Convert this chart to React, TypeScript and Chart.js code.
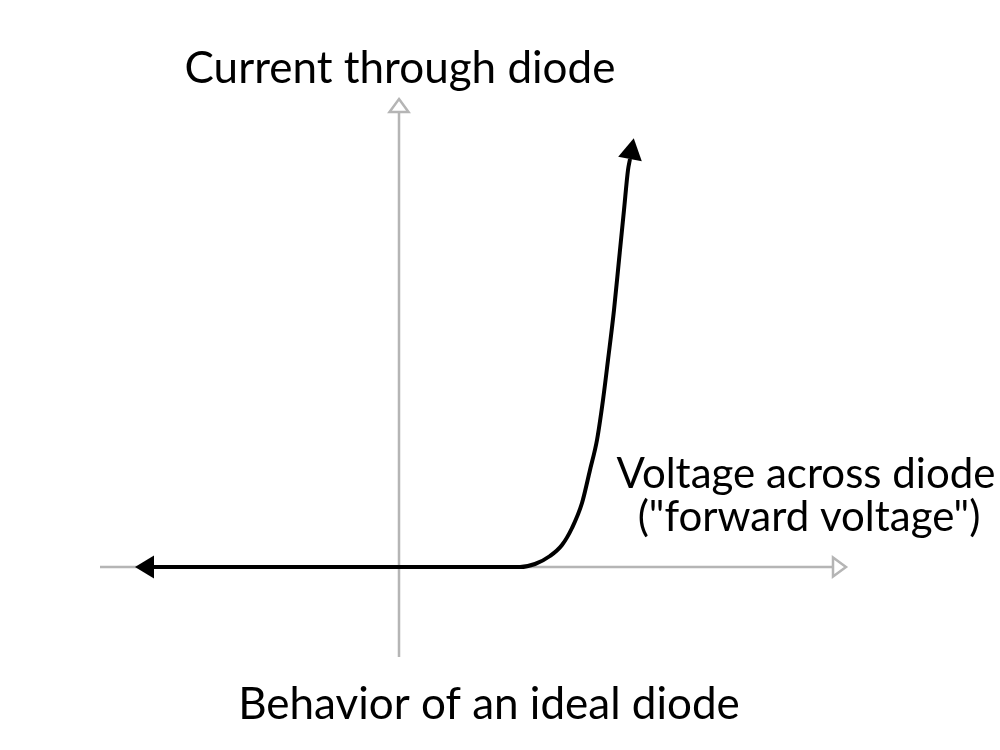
import React, { useEffect, useRef } from "react";
import { Chart, registerables } from "chart.js";

Chart.register(...registerables);

// ---- Data (arbitrary units: 1 unit of voltage / current) ----
const horizontalAxisVoltage = [-2.99, 4.34];
const horizontalAxisCurrent = [0, 0];
const verticalAxisVoltage = [0, 0];
const verticalAxisCurrent = [-0.9, 4.55];

const diodeVoltage = [-2.45, 1.21, 1.36, 1.51, 1.63, 1.73, 1.83, 1.91, 1.98, 2.04, 2.09, 2.15, 2.2, 2.25, 2.29, 2.31];
const diodeCurrent = [0, 0, 0.03, 0.11, 0.22, 0.39, 0.64, 0.97, 1.27, 1.67, 2.07, 2.57, 3.07, 3.57, 3.97, 4.08];

const titleText = "Current through diode";
const xAxisLabelLines = ["Voltage across diode", "(\"forward voltage\")"];
const captionText = "Behavior of an ideal diode";

const toPoints = (xs: number[], ys: number[]) => xs.map((x, i) => ({ x, y: ys[i] }));

const AXIS_GRAY = "#b5b5b5";
const FONT = "Lato, 'Open Sans', sans-serif";

const arrowPlugin = {
  id: "arrowHeads",
  afterDatasetsDraw(chart: any) {
    const ctx = chart.ctx;
    // draw axes arrows first, curve arrows last
    const order = chart.data.datasets
      .map((ds: any, i: number) => ({ ds, i }))
      .sort((a: any, b: any) => (b.ds.order ?? 0) - (a.ds.order ?? 0));
    order.forEach(({ ds, i }: any) => {
      const meta = chart.getDatasetMeta(i);
      const pts = meta.data;
      const arrows = ds.arrows || [];
      arrows.forEach((a: any) => {
        const n = pts.length;
        const p = a.at === "end" ? pts[n - 1] : pts[0];
        const q = a.at === "end" ? pts[n - 2] : pts[1];
        const dx = p.x - q.x;
        const dy = p.y - q.y;
        const len = Math.hypot(dx, dy) || 1;
        const ux = dx / len;
        const uy = dy / len;
        const tip = { x: p.x + ux * a.length, y: p.y + uy * a.length };
        const h = a.width / 2;
        ctx.save();
        ctx.beginPath();
        ctx.moveTo(tip.x, tip.y);
        ctx.lineTo(p.x - uy * h, p.y + ux * h);
        ctx.lineTo(p.x + uy * h, p.y - ux * h);
        ctx.closePath();
        if (a.filled) {
          ctx.fillStyle = a.color;
          ctx.fill();
        } else {
          ctx.fillStyle = "#ffffff";
          ctx.fill();
          ctx.lineWidth = a.lineWidth;
          ctx.lineJoin = "miter";
          ctx.strokeStyle = a.color;
          ctx.stroke();
        }
        ctx.restore();
      });
    });
  },
};

const textPlugin = {
  id: "diagramText",
  afterDraw(chart: any) {
    const ctx = chart.ctx;
    ctx.save();
    ctx.fillStyle = "#000000";
    ctx.textAlign = "center";
    ctx.textBaseline = "alphabetic";
    ctx.font = `44px ${FONT}`;
    ctx.fillText(titleText, 400, 83);
    ctx.font = `42px ${FONT}`;
    ctx.fillText(xAxisLabelLines[0], 806, 488);
    ctx.fillText(xAxisLabelLines[1], 809, 531);
    ctx.font = `44px ${FONT}`;
    ctx.fillText(captionText, 489, 719);
    ctx.restore();
  },
};

export default function App() {
  const canvasRef = useRef<HTMLCanvasElement | null>(null);

  useEffect(() => {
    if (!canvasRef.current) return;
    const chart = new Chart(canvasRef.current, {
      type: "scatter",
      data: {
        datasets: [
          {
            label: "Voltage axis",
            data: toPoints(horizontalAxisVoltage, horizontalAxisCurrent),
            showLine: true,
            borderColor: AXIS_GRAY,
            borderWidth: 2.5,
            pointRadius: 0,
            order: 2,
            arrows: [{ at: "end", length: 13, width: 19, filled: false, color: AXIS_GRAY, lineWidth: 2.5 }],
          } as any,
          {
            label: "Current axis",
            data: toPoints(verticalAxisVoltage, verticalAxisCurrent),
            showLine: true,
            borderColor: AXIS_GRAY,
            borderWidth: 2.5,
            pointRadius: 0,
            order: 2,
            arrows: [{ at: "end", length: 13, width: 19, filled: false, color: AXIS_GRAY, lineWidth: 2.5 }],
          } as any,
          {
            label: "Ideal diode",
            data: toPoints(diodeVoltage, diodeCurrent),
            showLine: true,
            borderColor: "#000000",
            borderWidth: 4,
            pointRadius: 0,
            order: 1,
            cubicInterpolationMode: "monotone",
            arrows: [
              { at: "start", length: 19, width: 23, filled: true, color: "#000000" },
              { at: "end", length: 21, width: 24, filled: true, color: "#000000" },
            ],
          } as any,
        ],
      },
      options: {
        animation: false,
        responsive: false,
        devicePixelRatio: 1,
        layout: { padding: 0 },
        plugins: {
          legend: { display: false },
          tooltip: { enabled: false },
          title: { display: false },
        },
        scales: {
          x: { type: "linear", min: -3.99, max: 6.01, display: false },
          y: { type: "linear", min: -1.83, max: 5.67, display: false },
        },
      },
      plugins: [arrowPlugin, textPlugin],
    });
    return () => chart.destroy();
  }, []);

  return (
    <div style={{ position: "absolute", left: 0, top: 0, width: 1000, height: 750, background: "#ffffff" }}>
      <canvas ref={canvasRef} width={1000} height={750} style={{ display: "block" }} />
    </div>
  );
}
